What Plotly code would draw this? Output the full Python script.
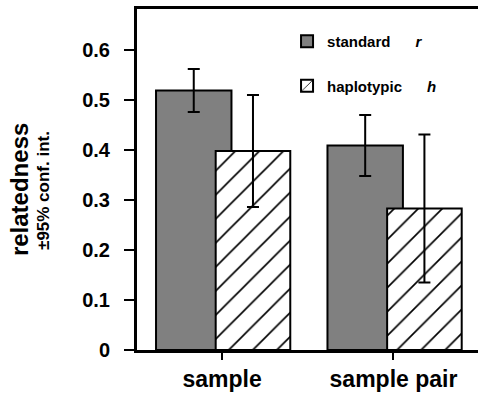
import plotly.graph_objects as go

categories = ["sample", "sample pair"]
standard_r = [0.519, 0.409]
standard_ci = [0.043, 0.061]
haplotypic_h = [0.398, 0.283]
haplotypic_ci = [0.112, 0.148]
y_ticks = [0, 0.1, 0.2, 0.3, 0.4, 0.5, 0.6]
y_tick_labels = ["0", "0.1", "0.2", "0.3", "0.4", "0.5", "0.6"]

NB = "\u00a0"
FONT = "Liberation Sans, Arial, Helvetica, sans-serif"

fig = go.Figure()
fig.add_trace(go.Bar(
    x=categories, y=standard_r, name="standard" + NB * 6 + "<i>r</i>",
    width=0.44, offset=-0.385,
    marker=dict(color="#808080", line=dict(color="black", width=2)),
    error_y=dict(type="data", array=standard_ci, color="black", thickness=2, width=6),
    legendgroup="a",
))
fig.add_trace(go.Bar(
    x=categories, y=haplotypic_h, name="haplotypic" + NB * 6 + "<i>h</i>",
    width=0.435, offset=-0.037,
    marker=dict(color="white", line=dict(color="black", width=2),
                pattern=dict(shape="/", size=17, solidity=0.1, fgcolor="#000000",
                             fgopacity=1, bgcolor="white", fillmode="replace")),
    error_y=dict(type="data", array=haplotypic_ci, color="black", thickness=2, width=6),
    legendgroup="b",
))

fig.update_layout(
    width=478, height=394,
    margin=dict(l=137, r=0, t=9, b=44),
    barmode="overlay",
    plot_bgcolor="white", paper_bgcolor="white",
    font=dict(family=FONT, color="black", weight="bold"),
    showlegend=True,
    legend=dict(x=0.44, y=0.953, xanchor="left", yanchor="top",
                font=dict(size=15, family=FONT, weight="bold"),
                traceorder="grouped", tracegroupgap=22,
                bgcolor="rgba(0,0,0,0)", itemwidth=30),
    xaxis=dict(range=[-0.496, 1.493], showline=True, linecolor="black", linewidth=2.5,
               mirror=True, ticks="outside", ticklen=7, tickwidth=2, tickcolor="black",
               tickfont=dict(size=23, family=FONT, weight="bold"), showgrid=False, zeroline=False),
    yaxis=dict(range=[0, 0.682], tickvals=y_ticks, ticktext=y_tick_labels,
               showline=True, linecolor="black", linewidth=3,
               ticks="outside", ticklen=10, tickwidth=2, tickcolor="black", ticklabelstandoff=10,
               tickfont=dict(size=20, family=FONT, weight="bold"), showgrid=False, zeroline=False),
    annotations=[
        dict(text="relatedness", xref="paper", yref="paper", x=-0.346, y=0.469,
             textangle=-90, showarrow=False, xanchor="center", yanchor="middle",
             font=dict(size=24, family=FONT, weight="bold")),
        dict(text="±95% conf. int.", xref="paper", yref="paper", x=-0.276, y=0.469,
             textangle=-90, showarrow=False, xanchor="center", yanchor="middle",
             font=dict(size=17, family=FONT, weight="bold")),
    ],
)

fig.write_html("out.html", config={"displayModeBar": False},
               post_script="document.body.style.margin='0';")
